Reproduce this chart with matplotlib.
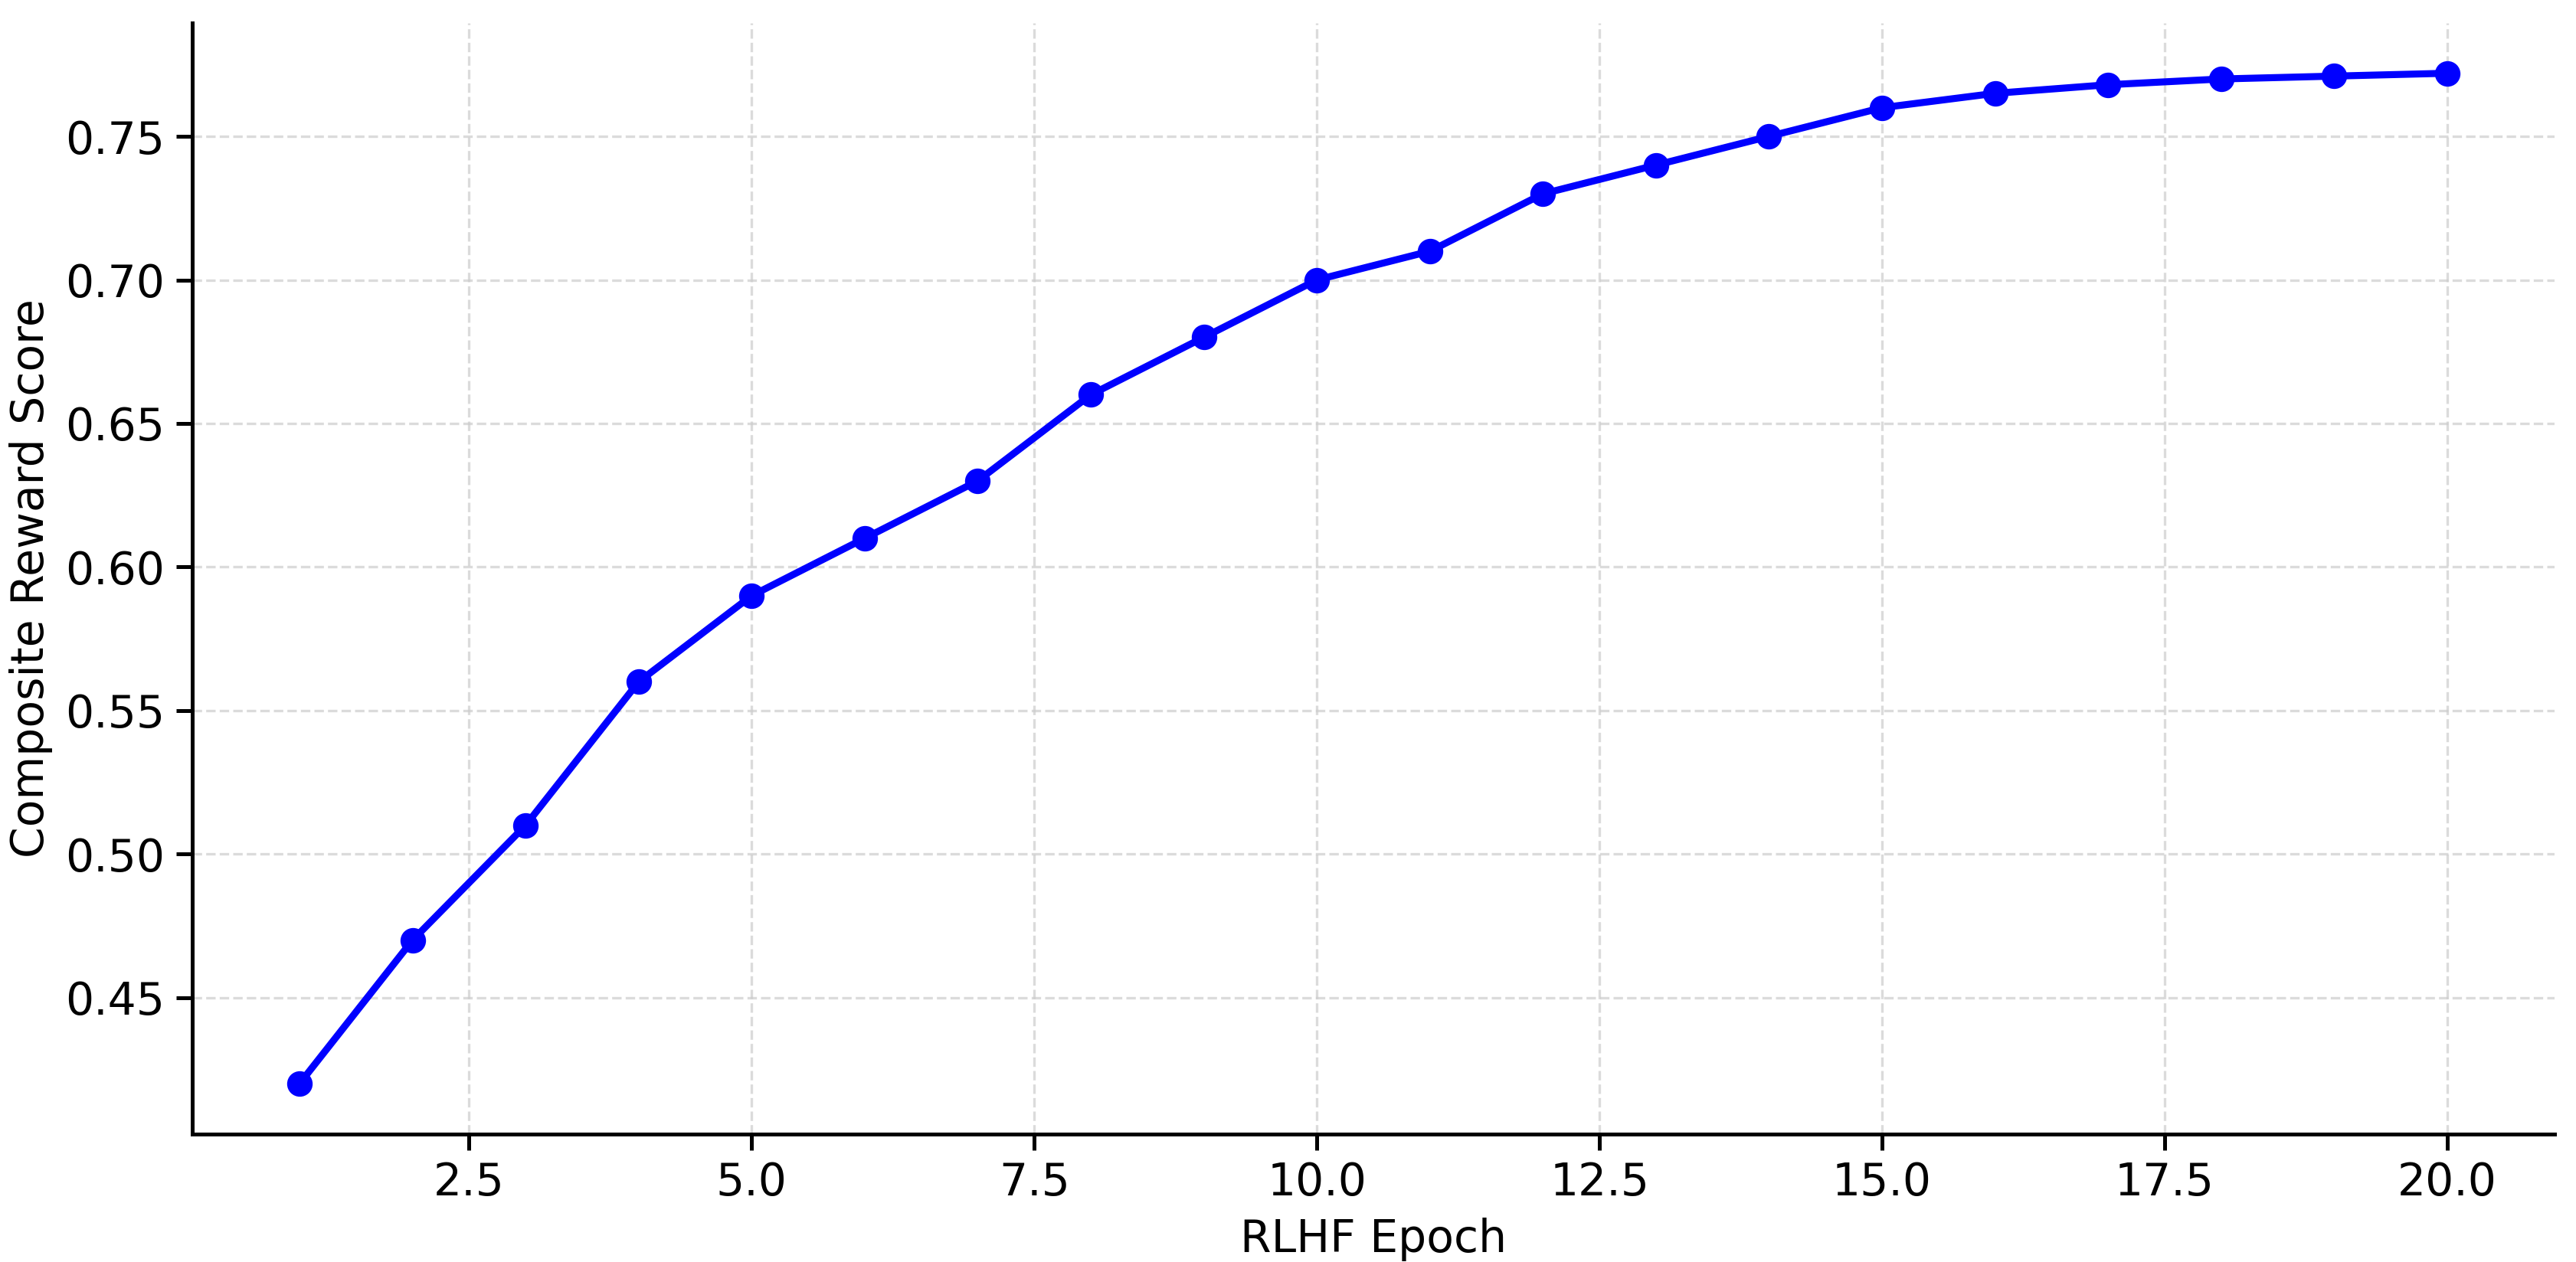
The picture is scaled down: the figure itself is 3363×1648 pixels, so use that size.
import numpy as np
import matplotlib
matplotlib.use("Agg")
import matplotlib.pyplot as plt

# data
epochs = list(range(1, 21))
reward = [0.42, 0.47, 0.51, 0.56, 0.59, 0.61, 0.63, 0.66, 0.68, 0.70,
          0.71, 0.73, 0.74, 0.75, 0.76, 0.765, 0.768, 0.770, 0.771, 0.772]

fig = plt.figure(figsize=(3363 / 300, 1648 / 300), dpi=300)
ax = fig.add_axes([0.0746, 0.1013, 0.9171, 0.8807])

ax.plot(epochs, reward, '-o', color='blue', linewidth=2.2, markersize=7)

ax.grid(True, linestyle='--', color='#cccccc', linewidth=0.8, alpha=0.7)
ax.spines['top'].set_visible(False)
ax.spines['right'].set_visible(False)
ax.spines['left'].set_linewidth(1.2)
ax.spines['bottom'].set_linewidth(1.2)
ax.tick_params(labelsize=14, width=1.2, length=5)

ax.set_xlabel('RLHF Epoch', fontsize=14)
ax.set_ylabel('Composite Reward Score', fontsize=14)

fig.savefig('out.png', dpi=300)
